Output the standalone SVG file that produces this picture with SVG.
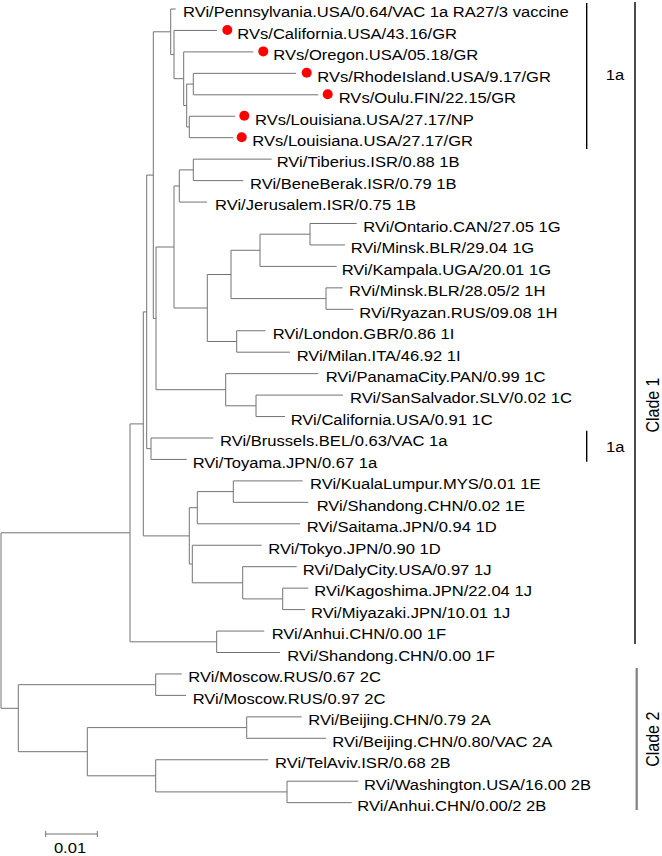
<svg xmlns="http://www.w3.org/2000/svg" width="662" height="856" viewBox="0 0 662 856">
<style>
text{font-family:"Liberation Sans",Arial,sans-serif;font-size:15px;fill:#000}
.tree{fill:none;stroke:#737373;stroke-width:1}
.bar{stroke:#000;stroke-width:1.4}
.bar2{stroke:#808080;stroke-width:2.2}
.dot{fill:#ff0000}
.clade{font-size:18px}
</style>
<rect width="662" height="856" fill="#fff"/>
<g id="connectors" class="tree">
<path d="M1,532.8V708.3M1,532.8H130M1,708.3H18.3
M130,423.9V641.8M130,423.9H143.3M130,641.8H216.7
M143.3,311.9V535.9M143.3,311.9H146.7M143.3,535.9H189.3
M146.7,175.1V448.7M146.7,175.1H153.3M146.7,448.7H151
M153.3,31.8V318.4M153.3,31.8H170.7M153.3,318.4H156
M170.7,9V54.6M170.7,9H175.7M170.7,54.6H174
M174,30.45V78.7M174,30.45H217M174,78.7H183.7
M183.7,51.9V105.5M183.7,51.9H253.3M183.7,105.5H186.7
M186.7,84.1V127M186.7,84.1H193.3M186.7,127H189.3
M193.3,73.35V94.8M193.3,73.35H296M193.3,94.8H318.3
M189.3,116.25V137.7M189.3,116.25H235M189.3,137.7H233.3
M156,247V389.7M156,247H174M156,389.7H225.7
M174,186V308M174,186H179.3M174,308H207.3
M179.3,169.9V202.05M179.3,169.9H193.3M179.3,202.05H207
M193.3,159.15V180.6M193.3,159.15H271.7M193.3,180.6H243.3
M207.3,274.5V341.5M207.3,274.5H231M207.3,341.5H236.7
M231,250.3V298.6M231,250.3H260M231,298.6H326
M260,234.2V266.4M260,234.2H310M260,266.4H336.7
M310,223.5V244.95M310,223.5H356.7M310,244.95H345
M326,287.85V309.3M326,287.85H342.7M326,309.3H353.3
M236.7,330.75V352.2M236.7,330.75H265.5M236.7,352.2H290
M225.7,373.65V405.8M225.7,373.65H318.3M225.7,405.8H256
M256,395.1V416.55M256,395.1H343M256,416.55H285
M151,438V459.45M151,438H213.3M151,459.45H186.7
M189.3,507.7V564M189.3,507.7H197.3M189.3,564H192.3
M197.3,491.6V523.8M197.3,491.6H233.3M197.3,523.8H300
M233.3,480.9V502.35M233.3,480.9H302.7M233.3,502.35H308.3
M192.3,545.25V582.8M192.3,545.25H261.7M192.3,582.8H242.7
M242.7,566.7V598.9M242.7,566.7H296.7M242.7,598.9H282.7
M282.7,588.15V609.6M282.7,588.15H308.3M282.7,609.6H305
M216.7,631.05V652.5M216.7,631.05H264.3M216.7,652.5H280
M18.3,684.7V751.7M18.3,684.7H155.7M18.3,751.7H87.3
M155.7,673.95V695.4M155.7,673.95H181.7M155.7,695.4H186
M87.3,727.6V775.8M87.3,727.6H246.7M87.3,775.8H155.7
M246.7,716.85V738.3M246.7,716.85H301.7M246.7,738.3H326
M155.7,759.75V791.9M155.7,759.75H268.3M155.7,791.9H287
M287,781.2V802.65M287,781.2H358.3M287,802.65H351.7"/>
</g>
<g id="leaves">
<g id="n0"><text transform="translate(183,17.3) scale(1.105,1)">RVi/Pennsylvania.USA/0.64/VAC 1a RA27/3 vaccine</text></g>
<g id="n1"><circle class="dot" cx="227.3" cy="30" r="5"/><text transform="translate(237.3,38.75) scale(1.105,1)">RVs/California.USA/43.16/GR</text></g>
<g id="n2"><circle class="dot" cx="263.3" cy="51.4" r="5"/><text transform="translate(273.3,60.2) scale(1.105,1)">RVs/Oregon.USA/05.18/GR</text></g>
<g id="n3"><circle class="dot" cx="306.7" cy="72.8" r="5"/><text transform="translate(317.3,81.65) scale(1.105,1)">RVs/RhodeIsland.USA/9.17/GR</text></g>
<g id="n4"><circle class="dot" cx="327.7" cy="94.3" r="5"/><text transform="translate(338.7,103.1) scale(1.105,1)">RVs/Oulu.FIN/22.15/GR</text></g>
<g id="n5"><circle class="dot" cx="244.3" cy="115.7" r="5"/><text transform="translate(255,124.55) scale(1.105,1)">RVs/Louisiana.USA/27.17/NP</text></g>
<g id="n6"><circle class="dot" cx="241.7" cy="137.2" r="5"/><text transform="translate(252.3,146) scale(1.105,1)">RVs/Louisiana.USA/27.17/GR</text></g>
<g id="n7"><text transform="translate(276.7,167.45) scale(1.105,1)">RVi/Tiberius.ISR/0.88 1B</text></g>
<g id="n8"><text transform="translate(250,188.9) scale(1.105,1)">RVi/BeneBerak.ISR/0.79 1B</text></g>
<g id="n9"><text transform="translate(215,210.35) scale(1.105,1)">RVi/Jerusalem.ISR/0.75 1B</text></g>
<g id="n10"><text transform="translate(363.3,231.8) scale(1.105,1)">RVi/Ontario.CAN/27.05 1G</text></g>
<g id="n11"><text transform="translate(350.7,253.25) scale(1.105,1)">RVi/Minsk.BLR/29.04 1G</text></g>
<g id="n12"><text transform="translate(341.7,274.7) scale(1.105,1)">RVi/Kampala.UGA/20.01 1G</text></g>
<g id="n13"><text transform="translate(349,296.15) scale(1.105,1)">RVi/Minsk.BLR/28.05/2 1H</text></g>
<g id="n14"><text transform="translate(359.3,317.6) scale(1.105,1)">RVi/Ryazan.RUS/09.08 1H</text></g>
<g id="n15"><text transform="translate(272.7,339.05) scale(1.105,1)">RVi/London.GBR/0.86 1I</text></g>
<g id="n16"><text transform="translate(296.7,360.5) scale(1.105,1)">RVi/Milan.ITA/46.92 1I</text></g>
<g id="n17"><text transform="translate(325.7,381.95) scale(1.105,1)">RVi/PanamaCity.PAN/0.99 1C</text></g>
<g id="n18"><text transform="translate(350,403.4) scale(1.105,1)">RVi/SanSalvador.SLV/0.02 1C</text></g>
<g id="n19"><text transform="translate(290.7,424.85) scale(1.105,1)">RVi/California.USA/0.91 1C</text></g>
<g id="n20"><text transform="translate(220,446.3) scale(1.105,1)">RVi/Brussels.BEL/0.63/VAC 1a</text></g>
<g id="n21"><text transform="translate(192.7,467.75) scale(1.105,1)">RVi/Toyama.JPN/0.67 1a</text></g>
<g id="n22"><text transform="translate(310,489.2) scale(1.105,1)">RVi/KualaLumpur.MYS/0.01 1E</text></g>
<g id="n23"><text transform="translate(316.7,510.65) scale(1.105,1)">RVi/Shandong.CHN/0.02 1E</text></g>
<g id="n24"><text transform="translate(306.7,532.1) scale(1.105,1)">RVi/Saitama.JPN/0.94 1D</text></g>
<g id="n25"><text transform="translate(268.3,553.55) scale(1.105,1)">RVi/Tokyo.JPN/0.90 1D</text></g>
<g id="n26"><text transform="translate(302.7,575) scale(1.105,1)">RVi/DalyCity.USA/0.97 1J</text></g>
<g id="n27"><text transform="translate(314.3,596.45) scale(1.105,1)">RVi/Kagoshima.JPN/22.04 1J</text></g>
<g id="n28"><text transform="translate(311,617.9) scale(1.105,1)">RVi/Miyazaki.JPN/10.01 1J</text></g>
<g id="n29"><text transform="translate(271.7,639.35) scale(1.105,1)">RVi/Anhui.CHN/0.00 1F</text></g>
<g id="n30"><text transform="translate(287.3,660.8) scale(1.105,1)">RVi/Shandong.CHN/0.00 1F</text></g>
<g id="n31"><text transform="translate(188.3,682.25) scale(1.105,1)">RVi/Moscow.RUS/0.67 2C</text></g>
<g id="n32"><text transform="translate(192.7,703.7) scale(1.105,1)">RVi/Moscow.RUS/0.97 2C</text></g>
<g id="n33"><text transform="translate(308.3,725.15) scale(1.105,1)">RVi/Beijing.CHN/0.79 2A</text></g>
<g id="n34"><text transform="translate(332.3,746.6) scale(1.105,1)">RVi/Beijing.CHN/0.80/VAC 2A</text></g>
<g id="n35"><text transform="translate(275,768.05) scale(1.105,1)">RVi/TelAviv.ISR/0.68 2B</text></g>
<g id="n36"><text transform="translate(364,789.5) scale(1.105,1)">RVi/Washington.USA/16.00 2B</text></g>
<g id="n37"><text transform="translate(357.3,810.95) scale(1.105,1)">RVi/Anhui.CHN/0.00/2 2B</text></g>
</g>
<g id="annotations">
<line class="bar" x1="586.7" y1="3" x2="586.7" y2="149"/>
<text transform="translate(605.7,80) scale(1.105,1)">1a</text>
<line class="bar" x1="586.7" y1="430.7" x2="586.7" y2="461.7"/>
<text transform="translate(606,452.3) scale(1.105,1)">1a</text>
<line class="bar" x1="635" y1="2" x2="635" y2="644"/>
<text class="clade" transform="translate(659,405) rotate(-90)" text-anchor="middle" textLength="55" lengthAdjust="spacingAndGlyphs">Clade 1</text>
<line class="bar2" x1="636.7" y1="668" x2="636.7" y2="810"/>
<text class="clade" transform="translate(659.3,739.2) rotate(-90)" text-anchor="middle" textLength="55" lengthAdjust="spacingAndGlyphs">Clade 2</text>
</g>
<g id="scalebar" class="tree">
<path d="M45.7,834H97.3M45.7,831V837M97.3,831V837"/>
<text transform="translate(70,853) scale(1.105,1)" text-anchor="middle" style="stroke:none">0.01</text>
</g>
</svg>
